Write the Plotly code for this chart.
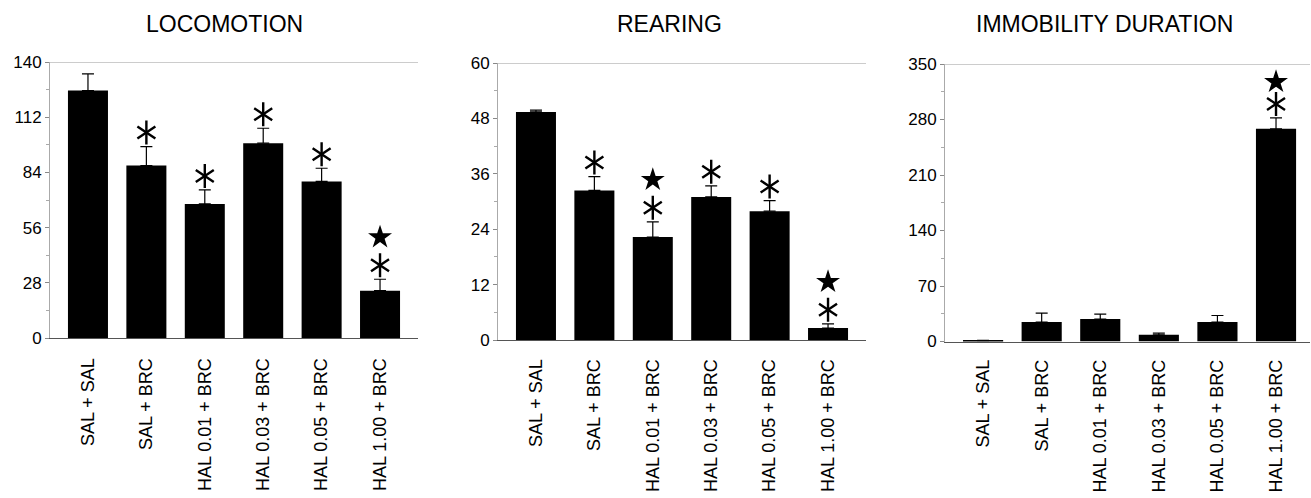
import plotly.graph_objects as go

# ---------------- data ----------------
categories = ["SAL + SAL", "SAL + BRC", "HAL 0.01 + BRC", "HAL 0.03 + BRC",
              "HAL 0.05 + BRC", "HAL 1.00 + BRC"]

titles = ["LOCOMOTION", "REARING", "IMMOBILITY DURATION"]

locomotion = [125.5, 87.5, 68.0, 98.8, 79.4, 24.0]
locomotion_err = [8.5, 9.6, 7.1, 7.6, 6.7, 5.8]

rearing = [49.4, 32.4, 22.3, 31.0, 27.9, 2.6]
rearing_err = [0.4, 3.0, 3.3, 2.4, 2.3, 0.9]

immobility = [1.0, 24.5, 28.3, 8.4, 24.5, 268.2]
immobility_err = [0.5, 11.3, 6.3, 2.2, 8.3, 13.8]

# significance flags (asterisk = vs SAL+SAL, star = vs SAL+BRC)
loco_ast = [0, 1, 1, 1, 1, 1]
loco_star = [0, 0, 0, 0, 0, 1]
rear_ast = [0, 1, 1, 1, 1, 1]
rear_star = [0, 0, 1, 0, 0, 1]
immob_ast = [0, 0, 0, 0, 0, 1]
immob_star = [0, 0, 0, 0, 0, 1]

y_max = [140, 60, 350]
y_ticks = [[0, 28, 56, 84, 112, 140], [0, 12, 24, 36, 48, 60], [0, 70, 140, 210, 280, 350]]
y_minor = [[14, 42, 70, 98, 126], [6, 18, 30, 42, 54], [35, 105, 175, 245, 315]]

# ---------------- layout geometry ----------------
W, H = 1311, 498
x_dom = [(50, 418), (498, 866), (945, 1310)]
y_dom = [(62, 338), (63, 340), (64, 341.5)]
x_ranges = [[-0.65, 5.65], [-0.65, 5.65], [-0.65, 5.58]]
title_x = [224, 669, 1104]
star_gap = [28, 28, 22]
label_standoff = [12, 11, 10]

panels = [
    (locomotion, locomotion_err, loco_ast, loco_star),
    (rearing, rearing_err, rear_ast, rear_star),
    (immobility, immobility_err, immob_ast, immob_star),
]

FONT = "Liberation Sans, Arial, Helvetica, sans-serif"

fig = go.Figure()
layout_axes = {}
shapes = []
annotations = []

for i, (vals, errs, ast, star) in enumerate(panels):
    suffix = "" if i == 0 else str(i + 1)
    xa, ya = "x" + suffix, "y" + suffix
    fig.add_trace(go.Bar(
        x=categories, y=vals, xaxis=xa, yaxis=ya, showlegend=False,
        marker=dict(color="black", line=dict(width=0)),
        error_y=dict(type="data", symmetric=False, array=errs,
                     arrayminus=[0] * len(errs), color="black",
                     thickness=1.2, width=6),
    ))
    plot_h = y_dom[i][1] - y_dom[i][0]
    ppu = plot_h / y_max[i]
    ax_x = [c for c, f in zip(categories, ast) if f]
    ax_y = [v + e + 14 / ppu for v, e, f in zip(vals, errs, ast) if f]
    st_x = [c for c, f in zip(categories, star) if f]
    st_y = [v + e + (14 + star_gap[i]) / ppu for v, e, f in zip(vals, errs, star) if f]
    for sym in ["y-up", "y-down"]:
        fig.add_trace(go.Scatter(
            x=ax_x, y=ax_y, xaxis=xa, yaxis=ya, mode="markers", showlegend=False,
            marker=dict(symbol=sym, size=15, color="black",
                        line=dict(color="black", width=2.4)),
            hoverinfo="skip",
        ))
    fig.add_trace(go.Scatter(
        x=st_x, y=st_y, xaxis=xa, yaxis=ya, mode="markers", showlegend=False,
        marker=dict(symbol="star", size=18, color="black", line=dict(width=0)),
        hoverinfo="skip",
    ))

    layout_axes["xaxis" + suffix] = dict(
        domain=[x_dom[i][0] / W, x_dom[i][1] / W], anchor=ya,
        type="category", range=x_ranges[i], tickangle=-90,
        tickfont=dict(family=FONT, size=18, color="black"),
        showline=True, linecolor="#555", linewidth=1, ticks="",
        ticklabelstandoff=label_standoff[i], showgrid=False, zeroline=False,
        automargin=False,
    )
    layout_axes["yaxis" + suffix] = dict(
        domain=[1 - y_dom[i][1] / H, 1 - y_dom[i][0] / H], anchor=xa,
        range=[0, y_max[i]], tickvals=y_ticks[i],
        tickfont=dict(family=FONT, size=17, color="black"),
        showline=True, linecolor="#aaa", linewidth=1,
        ticks="outside", ticklen=4, tickcolor="#888",
        minor=dict(tickvals=y_minor[i], ticks="outside", ticklen=3, tickcolor="#aaa"),
        showgrid=False, zeroline=False, automargin=False,
    )
    shapes.append(dict(type="line", xref=xa + " domain", yref=ya,
                       x0=0, x1=1, y0=y_max[i], y1=y_max[i],
                       line=dict(color="#999", width=1)))
    annotations.append(dict(text=titles[i], xref="paper", yref="paper",
                            x=title_x[i] / W, y=1 - 24 / H, xanchor="center",
                            yanchor="middle", showarrow=False,
                            font=dict(family=FONT, size=23, color="black")))

fig.update_layout(
    width=W, height=H, margin=dict(l=0, r=0, t=0, b=0),
    paper_bgcolor="white", plot_bgcolor="white",
    bargap=0.315, shapes=shapes, annotations=annotations,
    **layout_axes,
)

fig.write_html("out.html", config={"displayModeBar": False},
               post_script="document.body.style.margin='0';document.body.style.overflow='hidden';")
